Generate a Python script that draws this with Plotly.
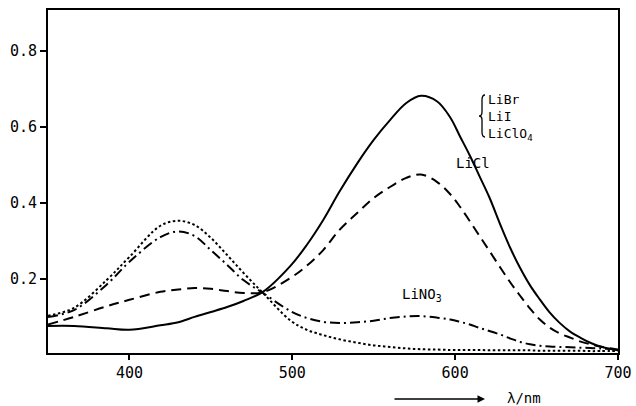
import plotly.graph_objects as go

wavelength = [350, 366, 386, 400, 419, 430, 440, 450, 460, 470, 482, 499, 509, 519, 529,
              540, 550, 560, 570, 579, 589, 597, 603, 609, 615, 621, 628, 634, 640, 646,
              652, 658, 664, 671, 677, 683, 689, 700]

# LiBr / LiI / LiClO4 (solid)
libr = [0.076, 0.076, 0.070, 0.066, 0.078, 0.086, 0.100, 0.113, 0.126, 0.142, 0.166,
        0.235, 0.290, 0.355, 0.430, 0.505, 0.566, 0.618, 0.663, 0.682, 0.667, 0.625,
        0.575, 0.525, 0.470, 0.415, 0.340, 0.280, 0.228, 0.183, 0.146, 0.112, 0.085,
        0.060, 0.045, 0.032, 0.022, 0.012]

# LiCl (dashed)
licl = [0.080, 0.100, 0.128, 0.145, 0.166, 0.172, 0.176, 0.174, 0.168, 0.163, 0.165,
        0.203, 0.235, 0.276, 0.329, 0.374, 0.413, 0.442, 0.466, 0.475, 0.455, 0.423,
        0.390, 0.352, 0.313, 0.274, 0.228, 0.190, 0.155, 0.122, 0.093, 0.072, 0.057,
        0.045, 0.035, 0.028, 0.022, 0.014]

# LiNO3 (dash-dot)
lino3 = [0.100, 0.118, 0.185, 0.245, 0.310, 0.325, 0.313, 0.276, 0.237, 0.197, 0.163,
         0.115, 0.097, 0.087, 0.084, 0.086, 0.090, 0.097, 0.101, 0.102, 0.098, 0.093,
         0.087, 0.080, 0.071, 0.063, 0.053, 0.043, 0.034, 0.028, 0.024, 0.022, 0.021,
         0.020, 0.019, 0.018, 0.017, 0.015]

# unlabelled dotted curve
dotted = [0.103, 0.124, 0.197, 0.258, 0.340, 0.353, 0.342, 0.308, 0.263, 0.216, 0.163,
          0.090, 0.066, 0.052, 0.041, 0.032, 0.025, 0.021, 0.017, 0.015, 0.014, 0.013,
          0.013, 0.013, 0.013, 0.012, 0.012, 0.012, 0.012, 0.012, 0.011, 0.011, 0.011,
          0.011, 0.011, 0.010, 0.010, 0.010]

x_ticks = [400, 500, 600, 700]
y_ticks = [0.2, 0.4, 0.6, 0.8]

FONT = "DejaVu Sans Mono"
L, R, T, B = 48, 18, 10, 53
W, H = 636, 406
PW, PH = W - L - R, H - T - B


def px(x):
    return (x - L) / PW


def py(y):
    return (H - B - y) / PH


fig = go.Figure()
series = [
    (libr, "solid", "LiBr/LiI/LiClO4"),
    (licl, "10px,6px", "LiCl"),
    (lino3, "10px,4px,2px,4px", "LiNO3"),
    (dotted, "2.5px,2.5px", "other"),
]
for ys, dash, name in series:
    fig.add_trace(go.Scatter(
        x=wavelength, y=ys, mode="lines", name=name,
        line=dict(color="black", width=2, dash=dash, shape="spline", smoothing=1.0),
        showlegend=False, hoverinfo="skip",
    ))

fig.update_layout(
    width=W, height=H,
    margin=dict(l=L, r=R, t=T, b=B, autoexpand=False),
    paper_bgcolor="white", plot_bgcolor="white",
    font=dict(family=FONT, size=15, color="black"),
    showlegend=False,
)
fig.update_xaxes(
    range=[350, 700], tickvals=x_ticks, ticktext=[str(v) for v in x_ticks],
    ticks="outside", ticklen=5, tickwidth=1.5, tickcolor="black",
    showline=True, linewidth=2, linecolor="black", mirror=True,
    showgrid=False, zeroline=False,
)
fig.update_yaxes(
    range=[0.005, 0.908], tickvals=y_ticks, ticktext=[f"{v:.1f}" for v in y_ticks],
    ticks="outside", ticklen=6, tickwidth=1.5, tickcolor="black",
    showline=True, linewidth=2, linecolor="black", mirror=True,
    showgrid=False, zeroline=False,
)

ann = dict(xref="paper", yref="paper", showarrow=False, font=dict(family=FONT, size=14))
fig.add_annotation(x=px(486), y=py(117), text="LiBr<br>LiI<br>LiClO<sub>4</sub>",
                   xanchor="left", yanchor="middle", align="left",
                   xref="paper", yref="paper", showarrow=False,
                   font=dict(family=FONT, size=13))
fig.add_annotation(x=px(473), y=py(163), text="LiCl", xanchor="center", yanchor="middle", **ann)
fig.add_annotation(x=px(400), y=py(295), text="LiNO<sub>3</sub>", xanchor="left", yanchor="middle", **ann)

# brace grouping LiBr / LiI / LiClO4
brace = [(485, 95), (482, 95), (482, 100), (482, 112), (482, 116), (479, 116),
         (482, 116), (482, 120), (482, 132), (482, 137), (485, 137)]
bp = [(px(a), py(b)) for a, b in brace]
path = (f"M {bp[0][0]},{bp[0][1]} Q {bp[1][0]},{bp[1][1]} {bp[2][0]},{bp[2][1]} "
        f"L {bp[3][0]},{bp[3][1]} Q {bp[4][0]},{bp[4][1]} {bp[5][0]},{bp[5][1]} "
        f"Q {bp[6][0]},{bp[6][1]} {bp[7][0]},{bp[7][1]} "
        f"L {bp[8][0]},{bp[8][1]} Q {bp[9][0]},{bp[9][1]} {bp[10][0]},{bp[10][1]}")
fig.add_shape(type="path", path=path, xref="paper", yref="paper",
              line=dict(color="black", width=1.3))

# axis title with arrow
fig.add_annotation(x=px(485), y=py(399), xref="paper", yref="paper",
                   ax=-92, ay=0, axref="pixel", ayref="pixel", text="", showarrow=True,
                   arrowhead=2, arrowsize=1, arrowwidth=1.5, arrowcolor="black")
fig.add_annotation(x=px(505), y=py(398), text="λ/nm", xanchor="left", yanchor="middle", **ann)

fig.write_html("out.html", config={"displayModeBar": False},
               post_script="document.body.style.margin='0px';")
